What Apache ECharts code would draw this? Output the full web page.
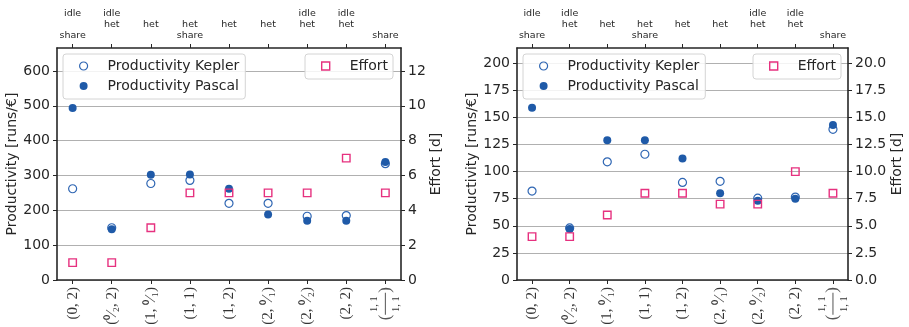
<!DOCTYPE html>
<html>
<head>
<meta charset="utf-8">
<script src="https://cdn.jsdelivr.net/npm/echarts@6/dist/echarts.min.js"></script>
<style>
  html, body { margin: 0; padding: 0; background: #fff; }
  #chart { width: 909px; height: 327px; }
</style>
</head>
<body>
<div id="chart"></div>
<script>
// Configurations along the x axis (bottom labels) and their feature tags (top labels)
const categories = ['(0, 2)', '(⁰⁄₂, 2)', '(1, ⁰⁄₁)', '(1, 1)', '(1, 2)', '(2, ⁰⁄₁)', '(2, ⁰⁄₂)', '(2, 2)', 'frac'];
const topLabels = ['idle\n \nshare', 'idle\nhet\n ', ' \nhet\n ', ' \nhet\nshare', ' \nhet\n ', ' \nhet\n ', 'idle\nhet\n ', 'idle\nhet\n ', ' \n \nshare'];

// Left panel
const keplerLeft = [262, 150, 277, 286, 220, 220, 183, 185, 334];
const pascalLeft = [494, 146, 302, 303, 262, 188, 170, 170, 339];
const effortLeft = [1, 1, 3, 5, 5, 5, 5, 7, 5];

// Right panel
const keplerRight = [82, 48, 109, 116, 90, 91, 75.5, 76.5, 139];
const pascalRight = [159, 47, 129, 129, 112, 80, 73, 75, 143];
const effortRight = [4, 4, 6, 8, 8, 7, 7, 10, 8];

// Tick values
const prodTicksLeft = [0, 100, 200, 300, 400, 500, 600];
const effortTicksLeft = [0, 2, 4, 6, 8, 10, 12];
const prodTicksRight = [0, 25, 50, 75, 100, 125, 150, 175, 200];
const effortTicksRight = [0, 2.5, 5, 7.5, 10, 12.5, 15, 17.5, 20];

const INK = '#262626';
const BLUE = '#1f5aa8';
const KEPLER = '#2f66b3';
const PINK = '#e6317f';
const SANS = 'DejaVu Sans';
const xIdx = categories.map((_, i) => i);

const pts = arr => arr.map((v, i) => [i, v]);

function bottomAxis(grid) {
  return {
    type: 'value', gridIndex: grid, position: 'bottom', min: -0.4, max: 8.4,
    splitLine: { show: false },
    axisLine: { show: true, onZero: false, lineStyle: { color: INK, width: 1.6 } },
    axisTick: { show: true, customValues: xIdx, length: 4, lineStyle: { color: INK, width: 1 } },
    axisLabel: {
      customValues: xIdx, rotate: 90, margin: 7,
      fontFamily: 'Liberation Serif', fontSize: 15, color: '#333',
      formatter: v => {
        const i = Math.round(v);
        if (categories[i] === 'frac') return '{n|1, 1}\n{pl|(}{bar| }{pr|)}\n{n|1, 1}';
        return categories[i];
      },
      rich: {
        n: { fontFamily: 'Liberation Serif', fontSize: 10.5, lineHeight: 11, color: '#333', width: 34, align: 'center' },
        bar: { width: 22, height: 1, backgroundColor: '#555', lineHeight: 11 },
        pl: { fontFamily: 'Liberation Serif', fontSize: 17, lineHeight: 11, color: '#555' },
        pr: { fontFamily: 'Liberation Serif', fontSize: 17, lineHeight: 11, color: '#555' }
      }
    }
  };
}

function topAxis(grid) {
  return {
    type: 'value', gridIndex: grid, position: 'top', min: -0.4, max: 8.4,
    splitLine: { show: false },
    axisLine: { show: true, onZero: false, lineStyle: { color: INK, width: 1.6 } },
    axisTick: { show: true, customValues: xIdx, length: 4, lineStyle: { color: INK, width: 1 } },
    axisLabel: {
      customValues: xIdx, margin: 7,
      fontFamily: SANS, fontSize: 9.5, lineHeight: 11, color: INK,
      formatter: v => topLabels[Math.round(v)]
    }
  };
}

function yAxis(grid, pos, max, interval, ticks, name, gap, withGrid, fmt) {
  return {
    type: 'value', gridIndex: grid, position: pos, min: 0, max: max, interval: interval,
    name: name, nameLocation: 'middle', nameGap: gap,
    nameTextStyle: { fontFamily: SANS, fontSize: 14, color: INK },
    splitLine: { show: withGrid, lineStyle: { color: '#b0b0b0', width: 1 } },
    axisLine: { show: true, onZero: false, lineStyle: { color: INK, width: 1.6 } },
    axisTick: { show: true, customValues: ticks, length: 4, lineStyle: { color: INK, width: 1 } },
    axisLabel: {
      customValues: ticks, margin: 7,
      fontFamily: SANS, fontSize: 14, color: INK,
      formatter: fmt || (v => String(v))
    }
  };
}

const legendItems = {
  'Productivity Kepler': { name: 'Productivity Kepler', itemStyle: { color: 'rgba(255,255,255,0)', borderColor: KEPLER, borderWidth: 1.2 } },
  'Productivity Pascal': { name: 'Productivity Pascal', itemStyle: { color: BLUE, borderWidth: 0 } },
  'Effort': { name: 'Effort', itemStyle: { color: 'rgba(255,255,255,0)', borderColor: PINK, borderWidth: 1.4 } }
};

function legend(left, top, names, padRight) {
  return {
    orient: 'vertical', left: left, top: top,
    data: names.map(n => legendItems[n]),
    itemWidth: 8, itemHeight: 8, itemGap: 0,
    padding: [2, padRight, 3, 16],
    backgroundColor: 'rgba(255,255,255,0.85)',
    borderColor: '#d4d4d4', borderWidth: 1, borderRadius: 3,
    formatter: '{g| }{name}',
    textStyle: {
      fontFamily: SANS, fontSize: 14, lineHeight: 20, color: INK,
      rich: { g: { width: 15, fontSize: 14, lineHeight: 20 } }
    },
    selectedMode: false
  };
}

function seriesSet(xi, yl, yr, kep, pas, eff) {
  return [
    { name: 'Productivity Kepler', type: 'scatter', xAxisIndex: xi, yAxisIndex: yl,
      symbol: 'circle', symbolSize: 8, data: pts(kep),
      itemStyle: { color: 'rgba(255,255,255,0)', borderColor: KEPLER, borderWidth: 1.2, opacity: 1 } },
    { name: 'Productivity Pascal', type: 'scatter', xAxisIndex: xi, yAxisIndex: yl,
      symbol: 'circle', symbolSize: 8, data: pts(pas),
      itemStyle: { color: BLUE, opacity: 1 } },
    { name: 'Effort', type: 'scatter', xAxisIndex: xi, yAxisIndex: yr,
      symbol: 'rect', symbolSize: 7.5, data: pts(eff),
      itemStyle: { color: 'rgba(255,255,255,0)', borderColor: PINK, borderWidth: 1.4, opacity: 1 } }
  ];
}

const chart = echarts.init(document.getElementById('chart'), null, { renderer: 'canvas' });
chart.setOption({
  animation: false,
  backgroundColor: '#ffffff',
  grid: [
    { left: 57, right: 508, top: 48, bottom: 47, show: false, containLabel: false, outerBoundsMode: 'none' },
    { left: 517, right: 61, top: 48, bottom: 47, show: false, containLabel: false, outerBoundsMode: 'none' }
  ],
  xAxis: [bottomAxis(0), topAxis(0), bottomAxis(1), topAxis(1)],
  yAxis: [
    yAxis(0, 'left', 666, 100, prodTicksLeft, 'Productivity [runs/€]', 38, true),
    yAxis(0, 'right', 13.32, 2, effortTicksLeft, 'Effort [d]', 28, false),
    yAxis(1, 'left', 214, 25, prodTicksRight, 'Productivity [runs/€]', 38, true),
    yAxis(1, 'right', 21.4, 2.5, effortTicksRight, 'Effort [d]', 40, false, v => v.toFixed(1))
  ],
  legend: [
    legend(63, 54, ['Productivity Kepler', 'Productivity Pascal'], 6),
    legend(305, 54, ['Effort'], 5),
    legend(523, 54, ['Productivity Kepler', 'Productivity Pascal'], 6),
    legend(753, 54, ['Effort'], 5)
  ],
  series: [
    ...seriesSet(0, 0, 1, keplerLeft, pascalLeft, effortLeft),
    ...seriesSet(2, 2, 3, keplerRight, pascalRight, effortRight)
  ]
});
</script>
</body>
</html>
